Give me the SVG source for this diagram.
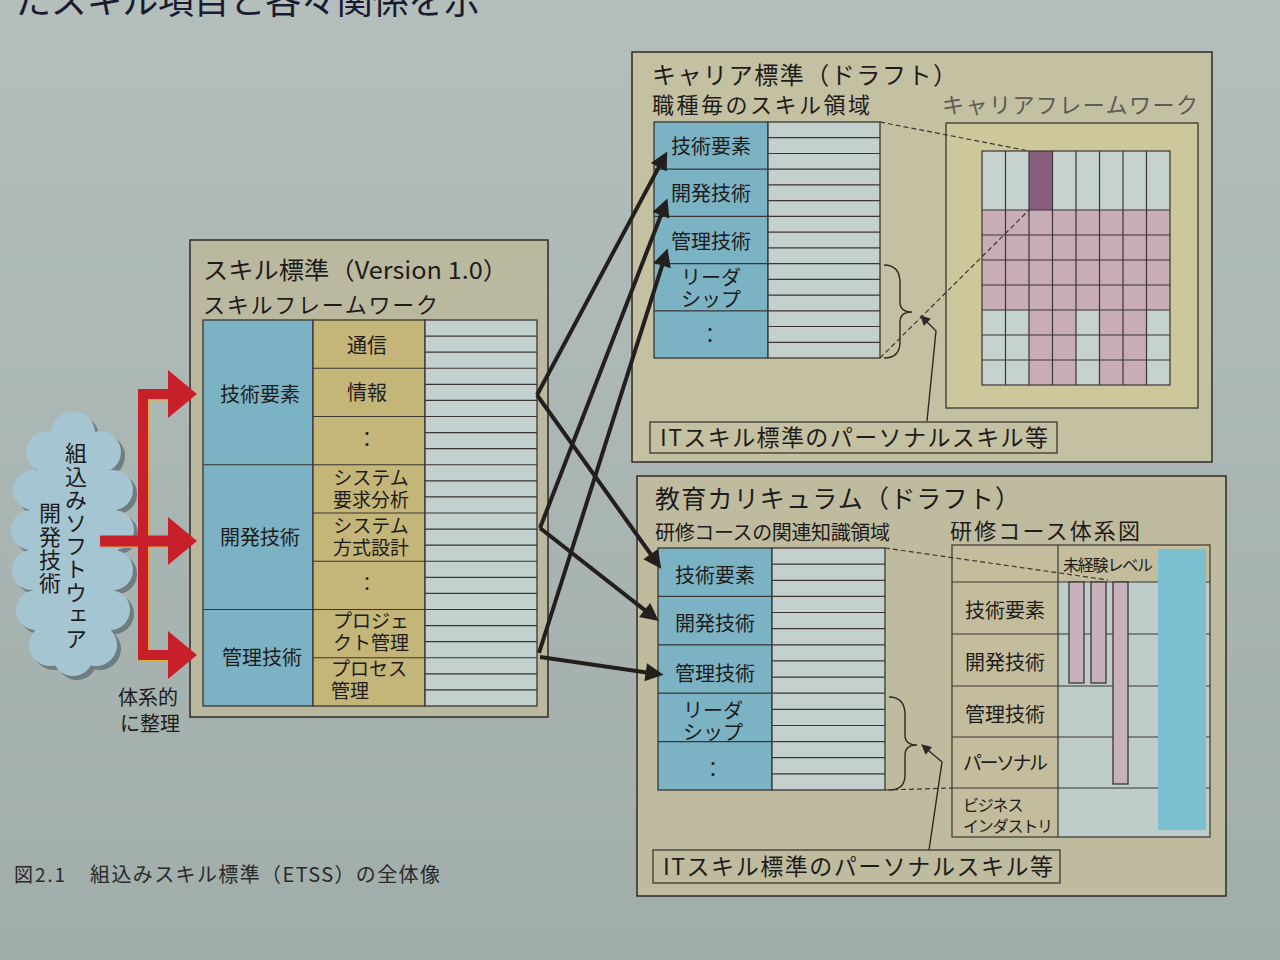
<svg xmlns="http://www.w3.org/2000/svg" width="1280" height="960" viewBox="0 0 1280 960">
<defs>
<style>
.t{font-family:"Noto Sans CJK JP","Noto Sans",sans-serif;fill:#1e1c1a}
.pn{stroke:#2e2a26;stroke-width:1.5}
.bl{fill:#7bb3c5}
.ol{fill:#c4b578}
.lt{fill:#c3d0ce}
.ln{stroke:#3a3632;stroke-width:1.2;fill:none}
.bx{stroke:#3a3632;stroke-width:1.3}
.dash{stroke:#3a3632;stroke-width:1.2;stroke-dasharray:5 3;fill:none}
.arr{stroke:#231f1c;stroke-width:4;fill:none}
.lead{stroke:#2e2a26;stroke-width:1.4;fill:none}
.red{stroke:#c8202a;fill:none;stroke-linejoin:miter}
.redh{fill:#c8202a}
</style>
<linearGradient id="bg" x1="0" y1="0" x2="0" y2="1">
<stop offset="0" stop-color="#b4bfbc"/>
<stop offset="1" stop-color="#a1adaa"/>
</linearGradient>
<marker id="ah" viewBox="0 0 10 10" markerUnits="userSpaceOnUse" markerWidth="22" markerHeight="18" refX="6.4" refY="5" orient="auto">
<path d="M0,0 L10,5 L0,10 z" fill="#231f1c"/>
</marker>
<marker id="sh" viewBox="0 0 10 10" markerUnits="userSpaceOnUse" markerWidth="12" markerHeight="10" refX="9" refY="5" orient="auto">
<path d="M0,0 L10,5 L0,10 z" fill="#2e2a26"/>
</marker>
<g id="cloudShape">
<circle cx="73" cy="433" r="22"/>
<circle cx="47" cy="452" r="21"/><circle cx="100" cy="452" r="21"/>
<circle cx="33" cy="490" r="20"/><circle cx="113" cy="490" r="20"/>
<circle cx="31" cy="530" r="20"/><circle cx="114" cy="530" r="20"/>
<circle cx="32" cy="570" r="20"/><circle cx="113" cy="570" r="20"/>
<circle cx="36" cy="610" r="20"/><circle cx="110" cy="610" r="20"/>
<circle cx="50" cy="645" r="21"/><circle cx="96" cy="645" r="21"/>
<circle cx="73" cy="656" r="20"/>
<ellipse cx="73" cy="543" rx="45" ry="112"/>
</g>
</defs>

<rect x="0" y="0" width="1280" height="960" fill="url(#bg)"/>

<text class="t" x="15" y="14" font-size="36" textLength="465" lengthAdjust="spacing" style="fill:#1a1a30">たスキル項目と各々関係を示</text>

<!-- Cloud node -->
<g id="cloud">
<use href="#cloudShape" transform="translate(4,4)" fill="#6f7c80"/>
<use href="#cloudShape" fill="#a5c5d2"/>
<text class="t" x="76" y="442" font-size="22" style="writing-mode:vertical-rl;letter-spacing:1.2px">組込みソフトウェア</text>
<text class="t" x="50" y="502" font-size="22" style="writing-mode:vertical-rl;letter-spacing:1.2px">開発技術</text>
</g>

<!-- Skill standard node -->
<g id="skill-standard">
<rect class="pn" x="190" y="240" width="358" height="477" fill="#bbb8a0"/>
<text class="t" x="203" y="279" font-size="24" textLength="305" lengthAdjust="spacingAndGlyphs">スキル標準（Version 1.0）</text>
<text class="t" x="203" y="313" font-size="22" textLength="235" lengthAdjust="spacing">スキルフレームワーク</text>
<rect class="bl bx" x="203" y="320" width="110" height="386"/>
<path class="ln" d="M203,464.75 H313 M203,609.5 H313"/>
<rect class="ol bx" x="313" y="320" width="112" height="386"/>
<path class="ln" d="M313,368.25 H425 M313,416.5 H425 M313,464.75 H425 M313,513 H425 M313,561.25 H425 M313,609.5 H425 M313,657.75 H425"/>
<rect class="lt bx" x="425" y="320" width="112" height="386"/>
<path class="ln" d="M425,336.1 H537 M425,352.2 H537 M425,368.25 H537 M425,384.3 H537 M425,400.4 H537 M425,416.5 H537 M425,432.6 H537 M425,448.7 H537 M425,464.75 H537 M425,480.8 H537 M425,496.9 H537 M425,513 H537 M425,529.1 H537 M425,545.2 H537 M425,561.25 H537 M425,577.3 H537 M425,593.4 H537 M425,609.5 H537 M425,625.6 H537 M425,641.7 H537 M425,657.75 H537 M425,673.8 H537 M425,689.9 H537"/>
<g font-size="20" text-anchor="middle">
<text class="t" x="260" y="402">技術要素</text>
<text class="t" x="260" y="545">開発技術</text>
<text class="t" x="262" y="665">管理技術</text>
<text class="t" x="367" y="353">通信</text>
<text class="t" x="367" y="400">情報</text>
<text class="t" x="367" y="447">：</text>
</g>
<g font-size="19" text-anchor="middle">
<text class="t" x="371" y="485">システム<tspan x="371" dy="22">要求分析</tspan></text>
<text class="t" x="371" y="533">システム<tspan x="371" dy="22">方式設計</tspan></text>
<text class="t" x="367" y="591">：</text>
<text class="t" x="371" y="628">プロジェ<tspan x="371" dy="22">クト管理</tspan></text>
</g>
<text class="t" x="331" y="676" font-size="19">プロセス<tspan x="331" dy="22">管理</tspan></text>
</g>

<!-- Career standard node -->
<g id="career-standard">
<rect class="pn" x="632" y="52" width="580" height="410" fill="#c4c0a2"/>
<text class="t" x="652" y="84" font-size="24" textLength="305" lengthAdjust="spacing">キャリア標準（ドラフト）</text>
<text class="t" x="652" y="113" font-size="22" textLength="218" lengthAdjust="spacing">職種毎のスキル領域</text>
<text class="t" x="942" y="113" font-size="22" textLength="256" lengthAdjust="spacing" style="fill:#5c5b55">キャリアフレームワーク</text>
<rect class="bl bx" x="654" y="122" width="114" height="236"/>
<path class="ln" d="M654,169.2 H768 M654,216.4 H768 M654,263.6 H768 M654,310.8 H768"/>
<rect class="lt bx" x="768" y="122" width="112" height="236"/>
<path class="ln" d="M768,137.7 H880 M768,153.5 H880 M768,169.2 H880 M768,184.9 H880 M768,200.7 H880 M768,216.4 H880 M768,232.1 H880 M768,247.9 H880 M768,263.6 H880 M768,279.3 H880 M768,295.1 H880 M768,310.8 H880 M768,326.5 H880 M768,342.3 H880"/>
<g font-size="20">
<text class="t" x="711" y="154" text-anchor="middle">技術要素</text>
<text class="t" x="711" y="201" text-anchor="middle">開発技術</text>
<text class="t" x="711" y="249" text-anchor="middle">管理技術</text>
<text class="t" x="681" y="285">リーダ<tspan x="681" dy="22">シップ</tspan></text>
<text class="t" x="710" y="343" text-anchor="middle">：</text>
</g>
<path class="lead" d="M884,265 Q900,265 900,283 V302 Q900,312 912,312 Q900,312 900,322 V342 Q900,358 884,358"/>
<!-- career framework -->
<rect class="bx" x="946" y="123" width="252" height="285" fill="#cdc79c"/>
<rect x="982" y="151" width="188" height="234" fill="#c5d2cf"/>
<rect x="982" y="210" width="188" height="100" fill="#c9adb6"/>
<rect x="1029" y="310" width="47" height="75" fill="#c9adb6"/>
<rect x="1099.5" y="310" width="47" height="75" fill="#c9adb6"/>
<rect x="1029" y="151" width="23.5" height="59" fill="#875d7e"/>
<path class="ln" d="M1005.5,151 V385 M1029,151 V385 M1052.5,151 V385 M1076,151 V385 M1099.5,151 V385 M1123,151 V385 M1146.5,151 V385 M982,210 H1170 M982,235 H1170 M982,260 H1170 M982,285 H1170 M982,310 H1170 M982,335 H1170 M982,360 H1170"/>
<rect class="ln" x="982" y="151" width="188" height="234"/>
<path class="dash" d="M880,122 L1029,151 M880,358 L1029,210"/>
<rect class="bx" x="650" y="422" width="407" height="31" fill="#c4c0a2"/>
<text class="t" x="660" y="446" font-size="23" textLength="388" lengthAdjust="spacing">ITスキル標準のパーソナルスキル等</text>
<path class="lead" d="M927,421 L936,331 L921,316" marker-end="url(#sh)"/>
</g>

<!-- Education curriculum node -->
<g id="education-curriculum">
<rect class="pn" x="637" y="476" width="589" height="420" fill="#bfbb9f"/>
<text class="t" x="655" y="508" font-size="25" textLength="365" lengthAdjust="spacing">教育カリキュラム（ドラフト）</text>
<text class="t" x="655" y="540" font-size="20" textLength="235" lengthAdjust="spacing">研修コースの関連知識領域</text>
<text class="t" x="950" y="539" font-size="22" textLength="190" lengthAdjust="spacing">研修コース体系図</text>
<rect class="bl bx" x="658" y="548" width="114" height="242"/>
<path class="ln" d="M658,596.4 H772 M658,644.8 H772 M658,693.2 H772 M658,741.6 H772"/>
<rect class="lt bx" x="772" y="548" width="113" height="242"/>
<path class="ln" d="M772,564.1 H885 M772,580.3 H885 M772,596.4 H885 M772,612.5 H885 M772,628.7 H885 M772,644.8 H885 M772,660.9 H885 M772,677.1 H885 M772,693.2 H885 M772,709.3 H885 M772,725.5 H885 M772,741.6 H885 M772,757.7 H885 M772,773.9 H885"/>
<g font-size="20">
<text class="t" x="715" y="583" text-anchor="middle">技術要素</text>
<text class="t" x="715" y="631" text-anchor="middle">開発技術</text>
<text class="t" x="715" y="681" text-anchor="middle">管理技術</text>
<text class="t" x="683" y="718">リーダ<tspan x="683" dy="22">シップ</tspan></text>
<text class="t" x="713" y="777" text-anchor="middle">：</text>
</g>
<path class="lead" d="M889,697 Q905,697 905,715 V735 Q905,745 917,745 Q905,745 905,755 V775 Q905,790 889,790"/>
<!-- course chart -->
<rect x="952" y="545" width="258" height="292" fill="#bfcdca"/>
<rect x="952" y="545" width="106" height="292" fill="#c3bd9e"/>
<rect x="1058" y="545" width="152" height="37" fill="#c3bd9e"/>
<path class="ln" d="M952,582 H1210 M952,634 H1210 M952,686 H1210 M952,737 H1210 M952,788 H1210 M1058,545 V837"/>
<rect class="bx" x="1069" y="582" width="15" height="101" fill="#c8b0bc"/>
<rect class="bx" x="1091" y="582" width="15" height="101" fill="#c8b0bc"/>
<rect class="bx" x="1113" y="582" width="15" height="202" fill="#c8b0bc"/>
<rect x="1158" y="549" width="48" height="281" fill="#7cbfd1"/>
<rect class="ln" x="952" y="545" width="258" height="292"/>
<text class="t" x="1063" y="571" font-size="16" textLength="90" lengthAdjust="spacing">未経験レベル</text>
<g font-size="20" text-anchor="middle">
<text class="t" x="1005" y="618">技術要素</text>
<text class="t" x="1005" y="670">開発技術</text>
<text class="t" x="1005" y="722">管理技術</text>
</g>
<text class="t" x="963" y="770" font-size="19" textLength="85" lengthAdjust="spacing">パーソナル</text>
<text class="t" x="963" y="811" font-size="16" style="letter-spacing:-1.2px">ビジネス<tspan x="963" dy="21">インダストリ</tspan></text>
<path class="dash" d="M885,548 L1108,580 M885,790 L952,788"/>
<rect class="bx" x="653" y="850" width="407" height="33" fill="#bfbb9f"/>
<text class="t" x="663" y="875" font-size="23" textLength="390" lengthAdjust="spacing">ITスキル標準のパーソナルスキル等</text>
<path class="lead" d="M929,850 L942,762 L922,745" marker-end="url(#sh)"/>
</g>

<!-- Connectors -->
<g id="connectors">
<g transform="translate(1.5,1.5)">
<path d="M172,394 H143 V655 H172" stroke="#d9ab35" stroke-width="10" fill="none"/>
<path d="M100,541 H172" stroke="#d9ab35" stroke-width="11"/>
</g>
<path class="red" d="M172,394 H143 V655 H172" stroke-width="10"/>
<path class="red" d="M100,541 H172" stroke-width="11"/>
<polygon class="redh" points="168,370 197,394 168,418"/>
<polygon class="redh" points="168,517 197,541 168,565"/>
<polygon class="redh" points="168,631 197,655 168,679"/>
<path class="arr" d="M537,395 L664.2,157.1" marker-end="url(#ah)"/>
<path class="arr" d="M537,395 L657.4,563.5" marker-end="url(#ah)"/>
<path class="arr" d="M540,528 L665.1,204.5" marker-end="url(#ah)"/>
<path class="arr" d="M540,528 L653.7,617.1" marker-end="url(#ah)"/>
<path class="arr" d="M539,653 L665.6,254.6" marker-end="url(#ah)"/>
<path class="arr" d="M540,657 L657.1,673.9" marker-end="url(#ah)"/>
</g>

<text class="t" x="148" y="705" font-size="20" text-anchor="middle">体系的<tspan x="150" dy="26">に整理</tspan></text>

<text class="t" x="14" y="882" font-size="19" textLength="51" lengthAdjust="spacing" style="fill:#2a2a2a">図2.1</text>
<text class="t" x="90" y="882" font-size="20" textLength="350" lengthAdjust="spacing" style="fill:#2a2a2a">組込みスキル標準（ETSS）の全体像</text>
</svg>
